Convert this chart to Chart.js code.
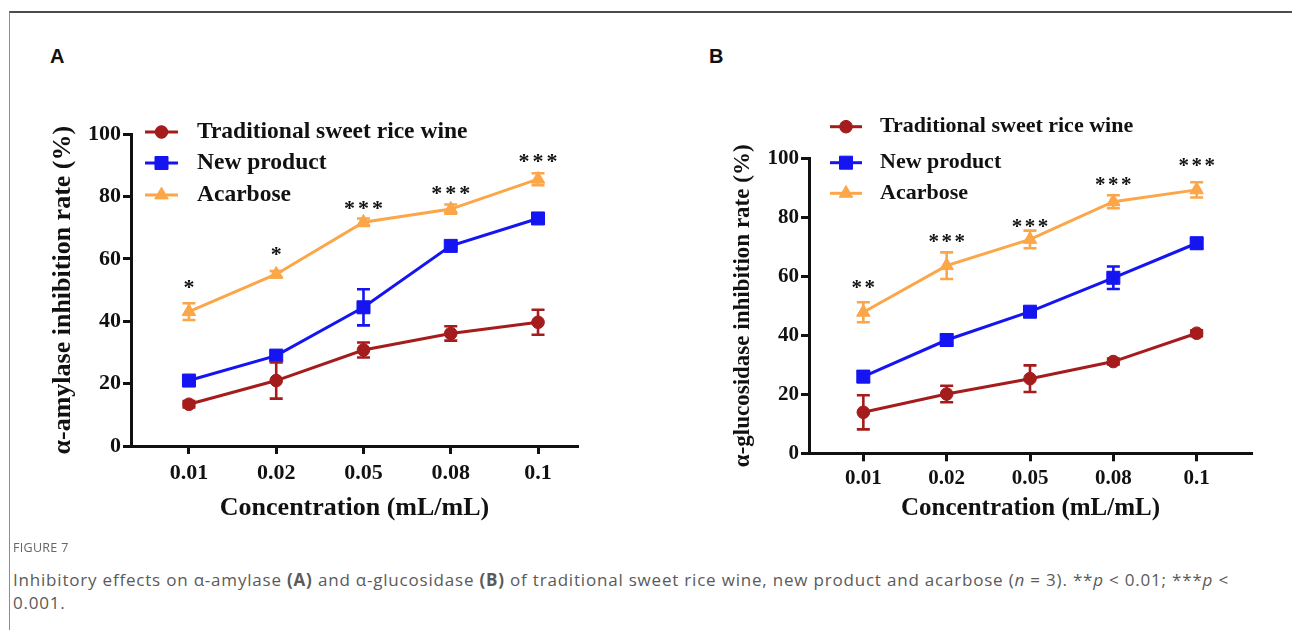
<!DOCTYPE html>
<html><head><meta charset="utf-8">
<script src="https://cdn.jsdelivr.net/npm/chart.js@4.4.1/dist/chart.umd.min.js"></script>
<style>
html,body{margin:0;padding:0;background:#fff;width:1292px;height:630px;overflow:hidden;position:relative;}
#frame{position:absolute;left:9px;top:11px;width:1283px;height:619px;border-top:2px solid #4d4d4d;border-left:1px solid #8c8c8c;box-sizing:border-box;}
canvas{position:absolute;}
#cA{left:20px;top:100px;}
#cB{left:690px;top:100px;}
.lbl{position:absolute;font-family:"Liberation Sans",Arial,sans-serif;font-weight:bold;font-size:20px;line-height:24px;color:#111;}
#fig{position:absolute;left:13px;top:540px;font-family:"Open Sans",sans-serif;font-size:12.5px;line-height:16px;color:#666;letter-spacing:0.3px;}
#cap{position:absolute;left:13px;top:568px;font-family:"Open Sans",sans-serif;font-size:17px;line-height:23px;color:#5a5a5a;white-space:nowrap;letter-spacing:0.8px;}
</style></head><body>
<div id="frame"></div>
<div class="lbl" style="left:50px;top:44px;">A</div>
<div class="lbl" style="left:709px;top:44px;">B</div>
<canvas id="cA" width="600" height="440"></canvas>
<canvas id="cB" width="590" height="440"></canvas>
<div id="fig">FIGURE 7</div>
<div id="cap">Inhibitory effects on α-amylase <b>(A)</b> and α-glucosidase <b>(B)</b> of traditional sweet rice wine, new product and acarbose (<i>n</i> = 3). **<i>p</i> &lt; 0.01; ***<i>p</i> &lt;<br>0.001.</div>
<script>
// ---------- data ----------
const categories = ['0.01', '0.02', '0.05', '0.08', '0.1'];
const seriesNames = ['Traditional sweet rice wine', 'New product', 'Acarbose'];
const yTicks = [0, 20, 40, 60, 80, 100];

const amylaseTraditional   = [13.4, 21.0, 30.8, 36.1, 39.7];
const amylaseTraditionalSD = [1.0, 5.8, 2.4, 2.3, 4.0];
const amylaseNew           = [21.0, 29.0, 44.5, 64.2, 73.0];
const amylaseNewSD         = [1.0, 1.2, 5.8, 1.0, 1.0];
const amylaseAcarbose      = [43.1, 55.1, 71.8, 76.0, 85.6];
const amylaseAcarboseSD    = [2.7, 1.0, 1.2, 1.5, 1.9];
const amylaseSig           = ['*', '*', '***', '***', '***'];
const amylaseSigY          = [52.3, 62.9, 77.6, 82.5, 92.7];

const glucoTraditional   = [13.9, 20.1, 25.3, 31.1, 40.7];
const glucoTraditionalSD = [5.8, 2.8, 4.5, 1.0, 1.0];
const glucoNew           = [26.0, 38.4, 48.0, 59.5, 71.2];
const glucoNewSD         = [1.8, 1.8, 1.0, 3.8, 1.8];
const glucoAcarbose      = [47.8, 63.6, 72.5, 85.3, 89.3];
const glucoAcarboseSD    = [3.4, 4.5, 3.0, 2.2, 2.6];
const glucoSig           = ['**', '***', '***', '***', '***'];
const glucoSigY          = [57.6, 73.1, 78.3, 92.6, 98.8];

// ---------- styles ----------
const colors = ['#A51C1C', '#1515F2', '#FBA648'];
const styles = ['circle', 'rect', 'triangle'];
const radii = [6.3, 9.2, 7.8];
const SERIF = '"Liberation Serif", "Times New Roman", serif';
const INK = '#111';

function makeDatasets(seriesVals) {
  return seriesVals.map((vals, k) => ({
    label: seriesNames[k],
    data: vals.map((v, i) => ({x: i, y: v})),
    borderColor: colors[k],
    backgroundColor: colors[k],
    pointBackgroundColor: colors[k],
    pointBorderColor: colors[k],
    borderWidth: 3,
    pointStyle: styles[k],
    pointRadius: radii[k],
    pointBorderWidth: 1,
    tension: 0,
    clip: false
  }));
}

function makeDeco(cfg) {
  return {
    id: 'deco' + cfg.name,
    beforeDatasetDraw(chart, args) {
      const k = args.index;
      const ds = chart.data.datasets[k];
      const sd = cfg.sd[k];
      const xs = chart.scales.x, ys = chart.scales.y, ctx = chart.ctx;
      ctx.save();
      ctx.strokeStyle = ds.borderColor;
      ctx.lineWidth = 2.6;
      ds.data.forEach((p, j) => {
        const x = xs.getPixelForValue(p.x);
        const yt = ys.getPixelForValue(p.y + sd[j]);
        const yb = ys.getPixelForValue(p.y - sd[j]);
        ctx.beginPath();
        ctx.moveTo(x, yt); ctx.lineTo(x, yb);
        ctx.moveTo(x - 6.5, yt); ctx.lineTo(x + 6.5, yt);
        ctx.moveTo(x - 6.5, yb); ctx.lineTo(x + 6.5, yb);
        ctx.stroke();
      });
      ctx.restore();
    },
    afterDraw(chart) {
      const ctx = chart.ctx, xs = chart.scales.x, ys = chart.scales.y;
      ctx.save();
      // legend
      const L = cfg.legend;
      seriesNames.forEach((name, k) => {
        const y = L.rows[k];
        ctx.strokeStyle = colors[k]; ctx.lineWidth = 3;
        ctx.beginPath(); ctx.moveTo(L.x1, y); ctx.lineTo(L.x2, y); ctx.stroke();
        ctx.fillStyle = colors[k]; ctx.lineWidth = 1;
        Chart.helpers.drawPoint(ctx, {pointStyle: styles[k], radius: radii[k], rotation: 0, borderWidth: 1}, (L.x1 + L.x2) / 2, y);
        ctx.fillStyle = INK;
        ctx.font = 'bold ' + L.size + 'px ' + SERIF;
        ctx.textAlign = 'left'; ctx.textBaseline = 'middle';
        ctx.fillText(name, L.tx, y);
      });
      // significance marks
      ctx.fillStyle = INK;
      ctx.font = 'bold ' + cfg.starSize + 'px ' + SERIF;
      ctx.textAlign = 'center'; ctx.textBaseline = 'alphabetic';
      cfg.sig.forEach((s, j) => {
        const cx = xs.getPixelForValue(j);
        const cy = ys.getPixelForValue(cfg.sigY[j]);
        const n = s.length;
        for (let m = 0; m < n; m++) {
          ctx.fillText('*', cx + (m - (n - 1) / 2) * cfg.pitch, cy + cfg.starSize * 0.5);
        }
      });
      ctx.restore();
    }
  };
}

function makeChart(id, cfg) {
  const tickFont = {family: SERIF, weight: 'bold', size: cfg.tickSize};
  return new Chart(document.getElementById(id), {
    type: 'line',
    data: {datasets: makeDatasets(cfg.series)},
    plugins: [makeDeco(cfg)],
    options: {
      responsive: false, animation: false, events: [],
      layout: {padding: cfg.padding},
      plugins: {legend: {display: false}, tooltip: {enabled: false}},
      scales: {
        x: {
          type: 'linear', min: cfg.xmin, max: cfg.xmax,
          afterBuildTicks: s => { s.ticks = categories.map((c, i) => ({value: i})); },
          afterFit: s => { s.height = cfg.xHeight; },
          ticks: {callback: v => categories[v], font: tickFont, color: INK, padding: cfg.xPad, autoSkip: false, maxRotation: 0},
          grid: {drawOnChartArea: false, drawTicks: true, tickLength: 8, tickWidth: 3, tickColor: INK},
          border: {display: true, color: INK, width: 3},
          title: {display: true, text: 'Concentration (mL/mL)', color: INK,
                  font: {family: SERIF, weight: 'bold', size: cfg.xTitleSize}, padding: {top: 0, bottom: cfg.xTitlePad}}
        },
        y: {
          min: 0, max: 100,
          afterBuildTicks: s => { s.ticks = yTicks.map(v => ({value: v})); },
          afterFit: s => { s.width = cfg.yWidth; },
          ticks: {font: tickFont, color: INK, padding: 2},
          grid: {drawOnChartArea: false, drawTicks: true, tickLength: 8, tickWidth: 3, tickColor: INK},
          border: {display: true, color: INK, width: 3},
          title: {display: true, text: cfg.yTitle, color: INK,
                  font: {family: SERIF, weight: 'bold', size: cfg.yTitleSize}, padding: {top: cfg.yTitlePad, bottom: 0}}
        }
      }
    }
  });
}

makeChart('cA', {
  name: 'A',
  series: [amylaseTraditional, amylaseNew, amylaseAcarbose],
  sd: [amylaseTraditionalSD, amylaseNewSD, amylaseAcarboseSD],
  sig: amylaseSig, sigY: amylaseSigY, starSize: 22, pitch: 14,
  xmin: -0.664, xmax: 4.458,
  padding: {top: 34.3, right: 42, left: 0, bottom: 0},
  yWidth: 111, xHeight: 94, xPad: 6, tickSize: 22,
  xTitleSize: 26, xTitlePad: 16.4,
  yTitle: 'α-amylase inhibition rate (%)', yTitleSize: 26, yTitlePad: 27.4,
  legend: {x1: 125, x2: 158, tx: 177, rows: [32, 63, 95], size: 23.5}
});

makeChart('cB', {
  name: 'B',
  series: [glucoTraditional, glucoNew, glucoAcarbose],
  sd: [glucoTraditionalSD, glucoNewSD, glucoAcarboseSD],
  sig: glucoSig, sigY: glucoSigY, starSize: 21, pitch: 13,
  xmin: -0.652, xmax: 4.664,
  padding: {top: 58.3, right: 28, left: 0, bottom: 0},
  yWidth: 119, xHeight: 86.7, xPad: 5, tickSize: 21,
  xTitleSize: 25, xTitlePad: 16.7,
  yTitle: 'α-glucosidase inhibition rate (%)', yTitleSize: 23, yTitlePad: 39.2,
  legend: {x1: 140, x2: 172, tx: 190, rows: [26.7, 62.7, 93.3], size: 22}
});
</script>
</body></html>
